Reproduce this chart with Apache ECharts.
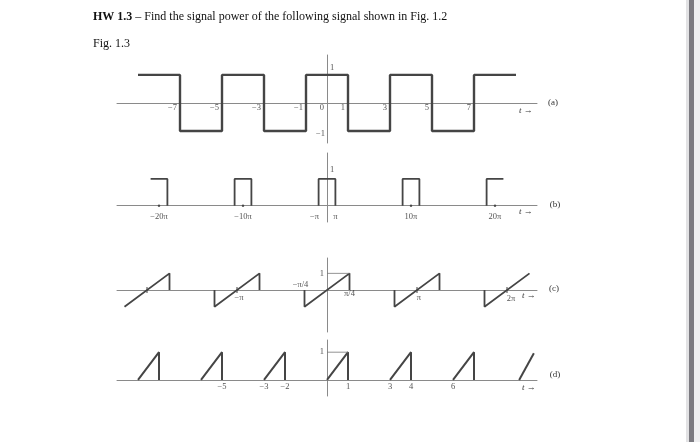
<!DOCTYPE html>
<html>
<head>
<meta charset="utf-8">
<script src="https://cdn.jsdelivr.net/npm/echarts@6/dist/echarts.min.js"></script>
<style>
  html, body { margin: 0; padding: 0; background: #fff; }
  #chart { width: 700px; height: 442px; }
</style>
</head>
<body>
<div id="chart"></div>
<script>
// (a) square wave: edges and the level between each pair of edges
const aEdges = [-9, -7, -5, -3, -1, 1, 3, 5, 7, 9]
const aLevels = [1, -1, 1, -1, 1, -1, 1, -1, 1]
const aTicks = [-7, -5, -3, -1, 0, 1, 3, 5, 7]
const aTickText = ['−7', '−5', '−3', '−1', '0', '1', '3', '5', '7']

// (b) pulses of width 2π every 10π (x in units of π)
const bCenters = [-20, -10, 0, 10, 20]
const bHalf = 1
const bTicks = [-20, -10, -1, 1, 10, 20]
const bTickText = ['−20π', '−10π', '−π', 'π', '10π', '20π']
const bDots = [-20, -10, 10, 20]

// (c) ramps from -1 to 1 over ±π/4 every π (x in units of π)
const cCenters = [-2, -1, 0, 1, 2]
const cHalf = 0.25
const cTicks = [-1, 0.25, 1, 2]
const cTickText = ['−π', 'π/4', 'π', '2π']
const cMarks = [-2, -1, 1, 2]

// (d) ramps 0 -> 1 over one unit, period 3
const dStarts = [-9, -6, -3, 0, 3, 6]
const dTail = [[9.15, 0], [9.85, 0.96]]
const dTicks = [-5, -3, -2, 1, 3, 4, 6]
const dTickText = ['−5', '−3', '−2', '1', '3', '4', '6']

const serif = 'Liberation Serif'
const ink = '#454545'
const axisColor = '#8a8a8a'

// build polylines
const aLine = []
aLevels.forEach((lv, i) => {
  aLine.push([aEdges[i], lv], [aEdges[i + 1], lv])
})

const bLines = bCenters.map((c, i) => {
  let p = [[c - bHalf, 0], [c - bHalf, 1], [c + bHalf, 1], [c + bHalf, 0]]
  if (i === 0) p = p.slice(1)
  if (i === bCenters.length - 1) p = p.slice(0, 3)
  return p
})

const cLines = cCenters.map((c, i) => {
  let p = [[c - cHalf, 0], [c - cHalf, -1], [c + cHalf, 1], [c + cHalf, 0]]
  if (i === 0) p = p.slice(1)
  if (i === cCenters.length - 1) p = p.slice(0, 3)
  return p
})

const dLines = dStarts.map(s => [[s, 0], [s + 1, 1], [s + 1, 0]])
dLines.push(dTail)

const grids = [
  { left: 117, width: 420, top: 55, height: 88 },
  { left: 117, width: 420, top: 153, height: 69 },
  { left: 117, width: 420, top: 258, height: 74 },
  { left: 117, width: 420, top: 340, height: 56 }
]
const xRanges = [[-10, 10], [-25, 25], [-7 / 3, 7 / 3], [-10, 10]]
const yRanges = [[-1.43, 1.71], [-0.61, 1.97], [-2.51, 1.92], [-0.58, 1.44]]

const xAxis = xRanges.map((r, i) => ({
  type: 'value', gridIndex: i, min: r[0], max: r[1],
  axisLine: { onZero: true, lineStyle: { color: axisColor, width: 1 } },
  axisTick: { show: false }, axisLabel: { show: false }, splitLine: { show: false }
}))
const yAxis = yRanges.map((r, i) => ({
  type: 'value', gridIndex: i, min: r[0], max: r[1],
  axisLine: { show: true, onZero: true, lineStyle: { color: axisColor, width: 1 } },
  axisTick: { show: false }, axisLabel: { show: false }, splitLine: { show: false }
}))

const series = []
const addLine = (g, pts, width, color) => {
  series.push({
    type: 'line', xAxisIndex: g, yAxisIndex: g, data: pts,
    showSymbol: false, silent: true,
    lineStyle: { color: color || ink, width: width }
  })
}
addLine(0, aLine, 2.4)
bLines.forEach(p => addLine(1, p, 1.8))
cLines.forEach(p => addLine(2, p, 1.8))
dLines.forEach(p => addLine(3, p, 2))
addLine(2, [[0, 1], [cHalf, 1]], 0.8, '#777')
addLine(3, [[0, 1], [1, 1]], 0.8, '#777')

const addText = (g, items, lab) => {
  series.push({
    type: 'scatter', xAxisIndex: g, yAxisIndex: g, symbolSize: 0, silent: true,
    data: items.map(it => ({ value: [it[0], it[1]], name: it[2], label: it[3] })),
    label: Object.assign({
      show: true, position: 'inside', formatter: '{b}',
      color: '#262626', fontFamily: serif, fontSize: 8.5
    }, lab)
  })
}
const addMarks = (g, xs, symbol, size) => {
  series.push({
    type: 'scatter', xAxisIndex: g, yAxisIndex: g, silent: true,
    symbol: symbol, symbolSize: size, itemStyle: { color: '#333' },
    data: xs.map(x => [x, 0])
  })
}

// tick labels
addText(0, aTicks.map((v, i) => [v, 0, aTickText[i]]), { align: 'right', offset: [-3, 5] })
addText(0, [[0, 1, '1']], { align: 'left', offset: [3, -7] })
addText(0, [[0, -1, '−1']], { align: 'right', offset: [-2, 3] })

addText(1, bTicks.map((v, i) => [v, 0, bTickText[i], v === -1 ? { offset: [-4, 11] } : undefined]), { offset: [0, 11] })
addText(1, [[0, 1, '1']], { align: 'left', offset: [3, -9] })
addMarks(1, bDots, 'circle', 2.5)

addText(2, cTicks.map((v, i) => [v, 0, cTickText[i], v === 0.25 ? { offset: [0, 4] } : (v === 2 ? { offset: [4, 9] } : undefined)]), { offset: [2, 8] })
addText(2, [[-cHalf, 0, '−π/4']], { offset: [-4, -5] })
addText(2, [[0, 1, '1']], { align: 'right', offset: [-3, 0] })
addMarks(2, cMarks, 'rect', [1.2, 6])

addText(3, dTicks.map((v, i) => [v, 0, dTickText[i]]), { offset: [0, 7] })
addText(3, [[0, 1, '1']], { align: 'right', offset: [-3, 0] })

// side annotations
const tArrow = (x, y) => ({
  type: 'text', x: x, y: y,
  style: {
    text: '{i|t} →', fontFamily: serif, fontSize: 9, fill: '#333',
    verticalAlign: 'middle',
    rich: { i: { fontStyle: 'italic', fontFamily: serif, fontSize: 9, fill: '#333' } }
  }
})
const tag = (x, y, s) => ({
  type: 'text', x: x, y: y,
  style: { text: s, fontFamily: serif, fontSize: 9, fill: '#333', align: 'center', verticalAlign: 'middle' }
})

const option = {
  animation: false,
  backgroundColor: '#fff',
  grid: grids,
  xAxis: xAxis,
  yAxis: yAxis,
  series: series,
  graphic: [
    {
      type: 'text', x: 93, y: 17,
      style: {
        text: '{b|HW 1.3} – Find the signal power of the following signal shown in Fig. 1.2',
        fontFamily: serif, fontSize: 12, fill: '#111', verticalAlign: 'middle',
        rich: { b: { fontWeight: 'bold', fontFamily: serif, fontSize: 12, fill: '#111' } }
      }
    },
    { type: 'text', x: 93, y: 44, style: { text: 'Fig. 1.3', fontFamily: serif, fontSize: 12, fill: '#111', verticalAlign: 'middle' } },
    tArrow(519, 111), tag(553, 103, '(a)'),
    tArrow(519, 212), tag(555, 205, '(b)'),
    tArrow(522, 296), tag(554, 289, '(c)'),
    tArrow(522, 388), tag(555, 375, '(d)'),
    { type: 'rect', shape: { x: 686, y: 0, width: 3, height: 442 }, style: { fill: '#e2e2e4' } },
    { type: 'rect', shape: { x: 689, y: 0, width: 5, height: 442 }, style: { fill: '#7b7a80' } },
    { type: 'rect', shape: { x: 694, y: 0, width: 6, height: 442 }, style: { fill: '#eeeef0' } }
  ]
}

const chart = echarts.init(document.getElementById('chart'))
chart.setOption(option)
</script>
</body>
</html>
